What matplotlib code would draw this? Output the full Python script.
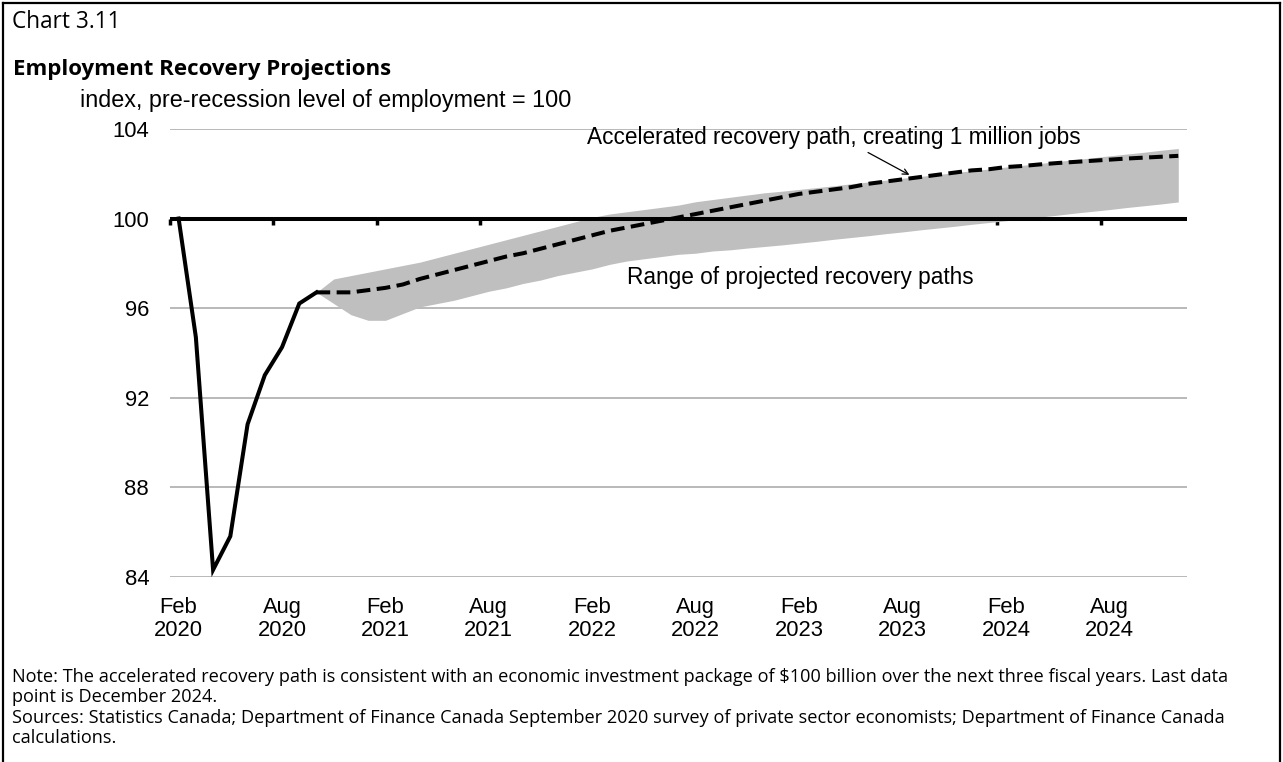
import numpy as np
import matplotlib
matplotlib.use("Agg")
import matplotlib.pyplot as plt
from matplotlib.lines import Line2D

plt.rcParams['font.family'] = ['Liberation Sans', 'DejaVu Sans']

# employment index, pre-recession level (Feb 2020) = 100
# observed: Feb 2020 - Oct 2020
actual = [100.0, 94.7, 84.3, 85.8, 90.8, 93.0, 94.25, 96.2, 96.7]

# accelerated recovery path: Oct 2020 - Dec 2024
accelerated = [
    96.7, 96.7, 96.7, 96.8, 96.9, 97.05, 97.3, 97.5, 97.7, 97.9,
    98.1, 98.3, 98.45, 98.65, 98.85, 99.05, 99.25, 99.45, 99.6, 99.75,
    99.9, 100.05, 100.2, 100.35, 100.5, 100.65, 100.8, 100.95, 101.1, 101.2,
    101.3, 101.4, 101.55, 101.65, 101.75, 101.85, 101.95, 102.05, 102.15, 102.2,
    102.3, 102.35, 102.42, 102.48, 102.53, 102.58, 102.63, 102.68, 102.72, 102.76,
    102.8,
]

# range of projected recovery paths: Oct 2020 - Dec 2024
range_high = [
    96.7, 97.3, 97.45, 97.6, 97.75, 97.9, 98.05, 98.25, 98.45, 98.65,
    98.85, 99.05, 99.25, 99.45, 99.65, 99.85, 100.05, 100.2, 100.3, 100.4,
    100.5, 100.6, 100.75, 100.85, 100.95, 101.05, 101.15, 101.22, 101.3, 101.38,
    101.46, 101.55, 101.63, 101.71, 101.8, 101.88, 101.96, 102.05, 102.13, 102.21,
    102.3, 102.38, 102.46, 102.55, 102.63, 102.71, 102.8, 102.88, 102.96, 103.05,
    103.13,
]
range_low = [
    96.7, 96.2, 95.7, 95.45, 95.45, 95.75, 96.05, 96.2, 96.35, 96.55,
    96.75, 96.9, 97.1, 97.25, 97.45, 97.6, 97.75, 97.95, 98.1, 98.2,
    98.3, 98.4, 98.45, 98.55, 98.6, 98.68, 98.75, 98.82, 98.9, 98.98,
    99.07, 99.15, 99.23, 99.32, 99.4, 99.49, 99.57, 99.65, 99.74, 99.82,
    99.9, 99.99, 100.07, 100.15, 100.24, 100.32, 100.4, 100.49, 100.57, 100.65,
    100.74,
]

tick_labels = ["Feb\n2020", "Aug\n2020", "Feb\n2021", "Aug\n2021", "Feb\n2022",
               "Aug\n2022", "Feb\n2023", "Aug\n2023", "Feb\n2024", "Aug\n2024"]
y_ticks = [84, 88, 92, 96, 100, 104]

n_months = len(actual) - 1 + len(accelerated)
x_actual = np.arange(len(actual))
x_proj = np.arange(len(actual) - 1, n_months)

fig = plt.figure(figsize=(12.83, 7.62), dpi=100)
ax = fig.add_axes([0.1325, 0.2434, 0.9251 - 0.1325, 0.8307 - 0.2434])

ax.fill_between(x_proj, range_low, range_high, color="#bfbfbf", lw=0, zorder=1)
ax.plot(x_actual, actual, color="black", lw=2.9, zorder=4, solid_joinstyle="miter")
ax.plot(x_proj, accelerated, color="black", lw=2.9, zorder=4,
        linestyle=(0, (3.4, 1.6)))

ax.set_xlim(-0.5, n_months - 0.5)
ax.set_ylim(84, 104)

# horizontal axis crosses at 100
for side in ("left", "right", "top"):
    ax.spines[side].set_visible(False)
ax.spines["bottom"].set_position(("data", 100))
ax.spines["bottom"].set_linewidth(2.9)
ax.spines["bottom"].set_capstyle("butt")
ax.spines["bottom"].set_zorder(3)
ax.set_xticks(np.arange(-0.5, n_months - 1, 6))
ax.tick_params(axis="x", direction="out", length=4, width=2.5, labelbottom=False)

ax.set_yticks(y_ticks)
ax.tick_params(axis="y", length=0, pad=15, labelsize=15.8)
ax.yaxis.grid(True, color="#a6a6a6", lw=1.1)
ax.set_axisbelow(True)

sec = ax.secondary_xaxis(0)
sec.set_xticks(np.arange(0, n_months, 6), labels=tick_labels)
sec.tick_params(length=0, pad=15, labelsize=15.8)
for lab in sec.get_xticklabels():
    lab.set_linespacing(1.08)
sec.spines["bottom"].set_visible(False)

ax.text(23.7, 103.6, "Accelerated recovery path, creating 1 million jobs",
        fontsize=16.3, va="center", ha="left")
ax.annotate("", xy=(42.4, 101.95), xytext=(40.0, 102.95),
            arrowprops=dict(arrowstyle="->", lw=0.9, color="black",
                            shrinkA=0, shrinkB=0))
ax.text(26.0, 97.37, "Range of projected recovery paths",
        fontsize=16.3, va="center", ha="left")

# titles
fig.text(12 / 1283, 1 - 22 / 762, "Chart 3.11", fontsize=16.3,
         family="Open Sans", va="center", ha="left")
fig.text(13 / 1283, 1 - 69 / 762, "Employment Recovery Projections", fontsize=16,
         family="Open Sans", fontweight="bold", va="center", ha="left")
fig.text(80 / 1283, 1 - 101 / 762, "index, pre-recession level of employment = 100",
         fontsize=16.8, va="center", ha="left")

# notes
notes = [
    "Note: The accelerated recovery path is consistent with an economic investment "
    "package of $100 billion over the next three fiscal years. Last data",
    "point is December 2024.",
    "Sources: Statistics Canada; Department of Finance Canada September 2020 survey "
    "of private sector economists; Department of Finance Canada",
    "calculations.",
]
for k, line in enumerate(notes):
    fig.text(12 / 1283, 1 - (677 + 20.3 * k) / 762, line, fontsize=13.05,
             family="Open Sans", va="center", ha="left")

# frame around the exhibit
frame = dict(color="black", lw=1.6, transform=fig.transFigure)
fig.add_artist(Line2D([3 / 1283, 3 / 1283], [0, 1 - 3 / 762], **frame))
fig.add_artist(Line2D([1280 / 1283, 1280 / 1283], [0, 1 - 3 / 762], **frame))
fig.add_artist(Line2D([3 / 1283, 1280 / 1283], [1 - 3 / 762, 1 - 3 / 762], **frame))

fig.savefig("out.png", dpi=100, facecolor="white")
